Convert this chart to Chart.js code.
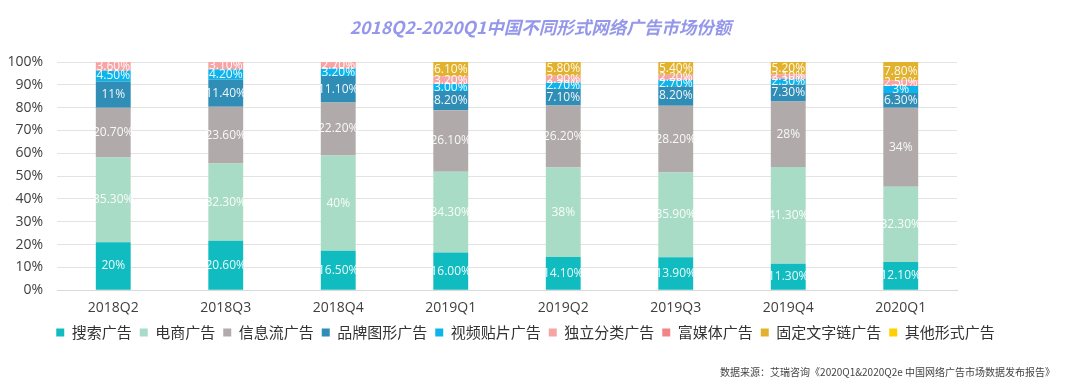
<!DOCTYPE html>
<html>
<head>
<meta charset="utf-8">
<style>
	body { margin: 0; background: #fff; }
	.wrapper { width: 1080px; height: 385px; }
</style>
</head>
<body>
<div class="wrapper">
	<canvas id="shareChart" width="1080" height="385"></canvas>
</div>

<script src="https://cdn.jsdelivr.net/npm/chart.js"></script>
<script>
	var quarters = ['2018Q2', '2018Q3', '2018Q4', '2019Q1', '2019Q2', '2019Q3', '2019Q4', '2020Q1'];

	// values as printed on the bars (null = no segment)
	var searchAds   = ['20', '20.60', '16.50', '16.00', '14.10', '13.90', '11.30', '12.10'];
	var ecomAds     = ['35.30', '32.30', '40', '34.30', '38', '35.90', '41.30', '32.30'];
	var feedAds     = ['20.70', '23.60', '22.20', '26.10', '26.20', '28.20', '28', '34'];
	var brandAds    = ['11', '11.40', '11.10', '8.20', '7.10', '8.20', '7.30', '6.30'];
	var videoAds    = ['4.50', '4.20', '3.20', '3.00', '2.70', '2.70', '2.30', '3'];
	var classAds    = ['3.60', '3.10', '2.70', '3.20', '2.90', '2.20', '2.10', '2.50'];
	var richAds     = [null, null, null, null, null, null, null, null];
	var textLinkAds = [null, null, null, '6.10', '5.80', '5.40', '5.20', '7.80'];
	var otherAds    = [null, null, null, null, null, null, null, null];

	var seriesNames = ['搜索广告', '电商广告', '信息流广告', '品牌图形广告', '视频贴片广告', '独立分类广告', '富媒体广告', '固定文字链广告', '其他形式广告'];
	var seriesData = [searchAds, ecomAds, feedAds, brandAds, videoAds, classAds, richAds, textLinkAds, otherAds];
	var colors = ['#11bcc0', '#a9dcc6', '#b0abaa', '#2f8db6', '#0bb4ec', '#f6a4a4', '#f08585', '#e2b22e', '#ffd000'];
	var sourceNote = '数据来源：艾瑞咨询《2020Q1&2020Q2e 中国网络广告市场数据发布报告》';

	// 100% stacked: each bar is scaled to its own total
	var totals = quarters.map(function (q, i) {
		var t = 0;
		seriesData.forEach(function (s) { if (s[i] !== null) t += parseFloat(s[i]); });
		return t;
	});

	var datasets = seriesData.map(function (s, k) {
		return {
			label: seriesNames[k],
			raw: s,
			data: s.map(function (v, i) { return v === null ? null : parseFloat(v) / totals[i] * 100; }),
			backgroundColor: colors[k],
			borderWidth: 0,
			barPercentage: 0.62,
			categoryPercentage: 0.5
		};
	});

	// white value labels inside the segments
	var segLabels = {
		id: 'segLabels',
		afterDatasetsDraw: function (chart) {
			var ctx = chart.ctx;
			ctx.save();
			ctx.font = '12px "Open Sans", sans-serif';
			ctx.fillStyle = 'rgba(255,255,255,0.92)';
			ctx.textAlign = 'center';
			ctx.textBaseline = 'middle';
			chart.data.datasets.forEach(function (ds, k) {
				chart.getDatasetMeta(k).data.forEach(function (bar, i) {
					if (ds.raw[i] === null) return;
					var mid = (bar.y + bar.base) / 2;
					ctx.fillText(ds.raw[i] + '%', bar.x, mid);
				});
			});
			ctx.restore();
		}
	};

	// title / legend sit centred on the whole page, not only on the plot; source note bottom right
	var pageLayout = {
		id: 'pageLayout',
		afterLayout: function (chart) {
			if (chart.titleBlock) {
				chart.titleBlock.left += 62;
				chart.titleBlock.right += 62;
			}
			if (chart.legend) {
				chart.legend.left += 47;
				chart.legend.right += 47;
			}
		},
		afterDraw: function (chart) {
			var ctx = chart.ctx;
			ctx.save();
			ctx.font = '10px "Noto Sans CJK SC", sans-serif';
			ctx.fillStyle = '#444';
			ctx.textAlign = 'right';
			ctx.textBaseline = 'middle';
			ctx.fillText(sourceNote, 1055, 372);
			ctx.restore();
		}
	};

	new Chart(document.getElementById('shareChart'), {
		type: 'bar',
		data: { labels: quarters, datasets: datasets },
		plugins: [segLabels, pageLayout],
		options: {
			responsive: false,
			animation: false,
			layout: { padding: { left: 0, right: 123, top: 0, bottom: 35 } },
			scales: {
				x: {
					stacked: true,
					grid: { display: false },
					border: { color: '#d9d9d9' },
					ticks: { color: '#404040', font: { size: 14, family: '"Open Sans", sans-serif' }, padding: 1 }
				},
				y: {
					stacked: true,
					min: 0,
					max: 100,
					afterFit: function (axis) { axis.width = 57; },
					grid: { color: '#e3e3e3', drawTicks: false },
					border: { display: false },
					ticks: {
						stepSize: 10,
						padding: 14,
						color: '#404040',
						font: { size: 14, family: '"Open Sans", sans-serif' },
						callback: function (v) { return v + '%'; }
					}
				}
			},
			plugins: {
				title: {
					display: true,
					text: '2018Q2-2020Q1中国不同形式网络广告市场份额',
					color: '#9497ea',
					font: { size: 17.5, weight: 'bold', style: 'italic', family: '"Noto Sans CJK SC", sans-serif' },
					padding: { top: 17, bottom: 24 }
				},
				legend: {
					position: 'bottom',
					labels: {
						boxWidth: 8,
						boxHeight: 8,
						padding: 8,
						color: '#333',
						font: { size: 15, family: '"Noto Sans CJK SC", sans-serif' }
					}
				},
				tooltip: { enabled: false }
			}
		}
	});
</script>
</body>
</html>
